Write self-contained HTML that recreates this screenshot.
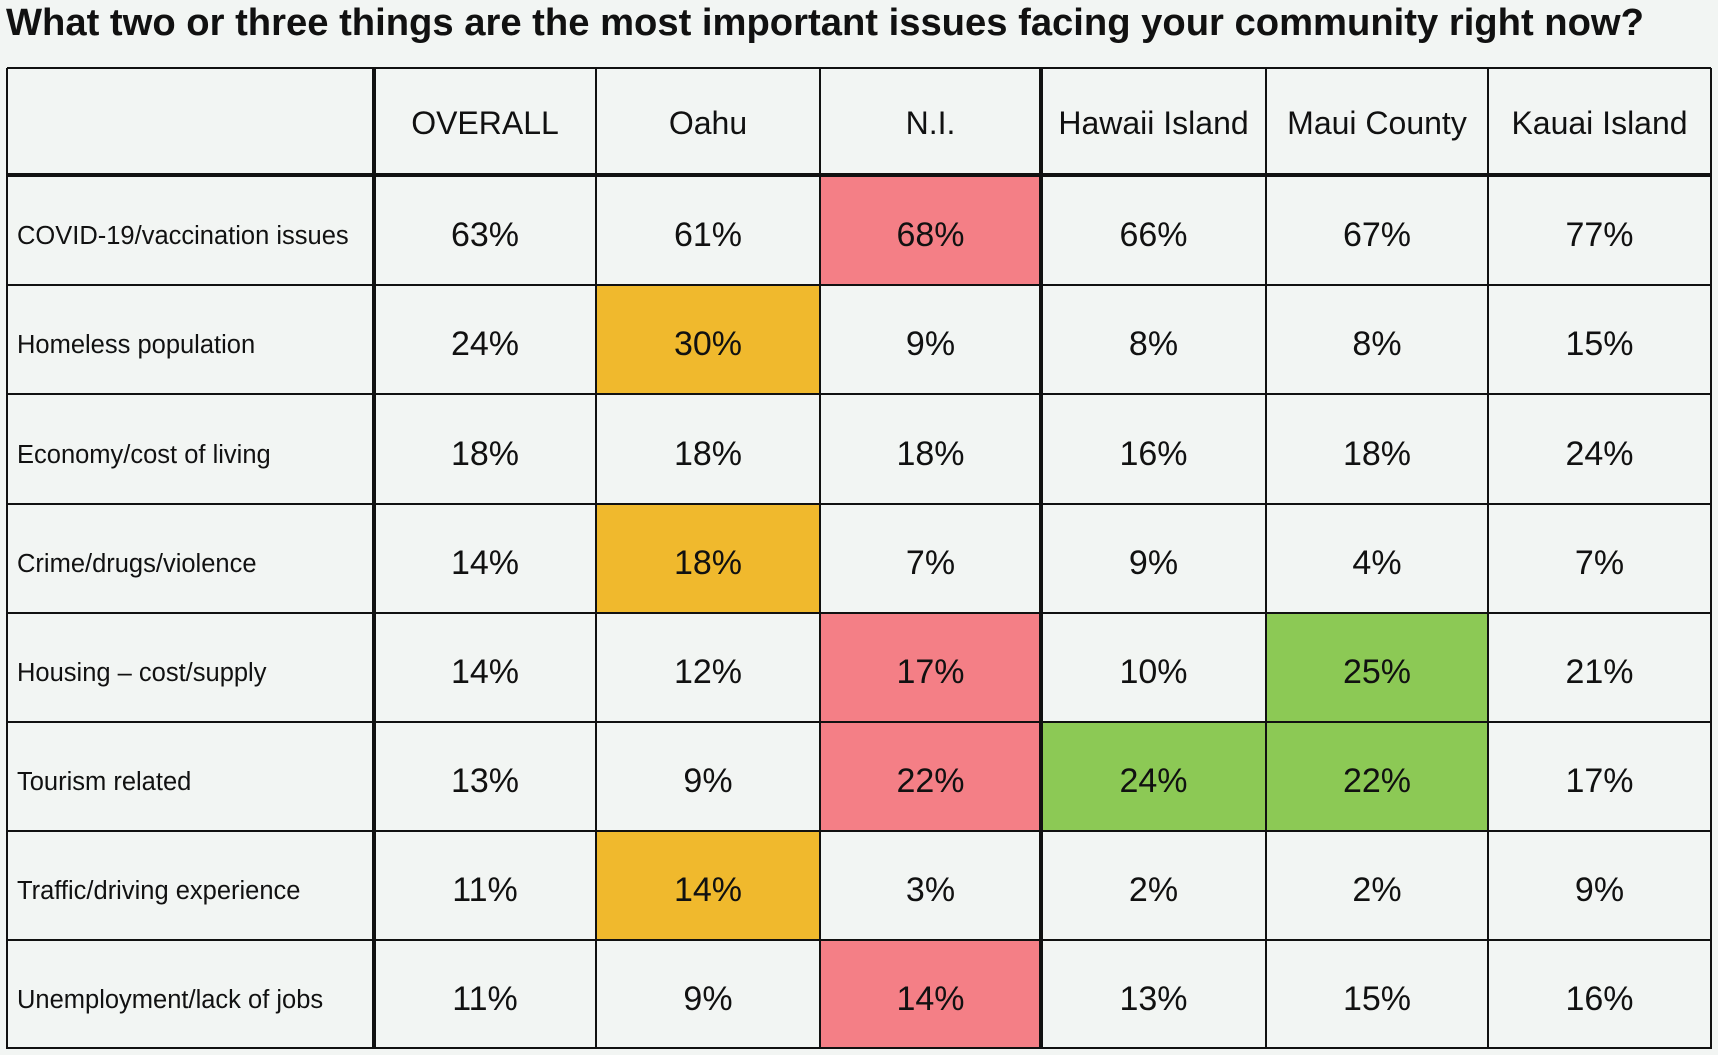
<!DOCTYPE html>
<html><head><meta charset="utf-8"><style>
body{margin:0;width:1718px;height:1055px;background:#f2f5f3;font-family:"Liberation Sans",sans-serif;position:relative;overflow:hidden}
#title{position:absolute;left:6px;top:1px;font-size:38.2px;font-weight:bold;color:#111;white-space:nowrap}
.c{position:absolute;box-sizing:border-box;display:flex;align-items:center;justify-content:center;color:#111}
.l{justify-content:flex-start;padding-left:10px;font-size:25.5px;padding-top:12px}
.h{font-size:32px;padding-top:4px}
.v{font-size:34px;padding-top:10px}
.ln{position:absolute;background:#111}
</style></head><body>
<div id="title">What two or three things are the most important issues facing your community right now?</div>
<div id="t"></div>
<script>
const columns=["OVERALL","Oahu","N.I.","Hawaii Island","Maui County","Kauai Island"];
const issues=["COVID-19/vaccination issues","Homeless population","Economy/cost of living","Crime/drugs/violence","Housing – cost/supply","Tourism related","Traffic/driving experience","Unemployment/lack of jobs"];
const values=[[63,61,68,66,67,77],[24,30,9,8,8,15],[18,18,18,16,18,24],[14,18,7,9,4,7],[14,12,17,10,25,21],[13,9,22,24,22,17],[11,14,3,2,2,9],[11,9,14,13,15,16]];
const highlights=[["","","r","","",""],["","o","","","",""],["","","","","",""],["","o","","","",""],["","","r","","g",""],["","","r","g","g",""],["","o","","","",""],["","","r","","",""]];
const colX=[7,374,596,820,1041,1266,1488,1711];
const rowY=[68,175,285,394,504,613,722,831,940,1049];
const hc={r:"#f47f86",o:"#f0b92d",g:"#8cc955"};
const t=document.getElementById('t');
function cell(x,y,w,h,txt,cls,bg){const d=document.createElement('div');d.className='c '+cls;
d.style.left=x+'px';d.style.top=y+'px';d.style.width=w+'px';d.style.height=h+'px';if(bg)d.style.background=bg;d.textContent=txt;t.appendChild(d);return d;}
columns.forEach((c,j)=>{const d=cell(colX[j+1],rowY[0],colX[j+2]-colX[j+1],rowY[1]-rowY[0],c,'h');

});
issues.forEach((s,i)=>{const y=rowY[i+1],h=rowY[i+2]-rowY[i+1];
const l=cell(colX[0],y,colX[1]-colX[0],h,s,'l');


values[i].forEach((v,j)=>{const d=cell(colX[j+1],y,colX[j+2]-colX[j+1],h,v+'%','v',hc[highlights[i][j]]);

});});
function line(x,y,w,h){const d=document.createElement('div');d.className='ln';d.style.left=x+'px';d.style.top=y+'px';d.style.width=w+'px';d.style.height=h+'px';


t.appendChild(d);}
rowY.slice(0,rowY.length-1).forEach((y,i)=>{const th=i===1?4:2;line(colX[0],y-th/2,colX[7]-colX[0],th);});
line(colX[0],rowY[9]-2,colX[7]-colX[0],2);
colX.forEach((x,j)=>{const th=(j===1||j===4)?4:2;line(x-th/2,rowY[0],th,rowY[9]-rowY[0]);});
</script>
</body></html>
